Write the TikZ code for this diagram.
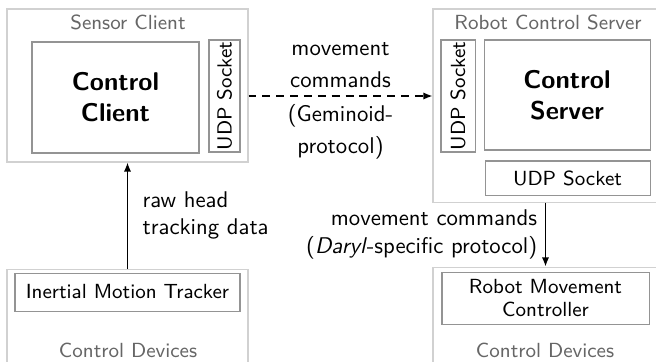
\documentclass[tikz,border=0pt]{standalone}
\usepackage{tikz}
\usetikzlibrary{positioning, arrows.meta}
\renewcommand{\familydefault}{\sfdefault}
\newcommand{\px}{0.44pt}
\tikzset{
  every picture/.style={x=0.44pt, y=-0.44pt},
  group/.style={draw=black!18, line width=0.45pt},
  part/.style={draw=black!42, line width=0.45pt, align=center, inner sep=0pt,
    font=\fontsize{9}{9.8}\selectfont},
  title/.style={font=\fontsize{11.3}{13.6}\selectfont\bfseries},
  grouplabel/.style={text=black!60, font=\fontsize{9}{11}\selectfont},
  flow/.style={-{Latex[length=4pt, width=3.2pt]}, line width=0.65pt}
}

\begin{document}
\begin{tikzpicture}
    \clip (0,0) rectangle (656,361);

    % Sensor client
    \node[group, minimum width=241*\px, minimum height=153*\px] (sensor) at (127.5,85.5) {};
    \node[grouplabel] (sensorlabel) at (128,22) {Sensor Client};
    \node[part, title, minimum width=167*\px, minimum height=111*\px] (client) at (115.5,97.5) {Control\\Client};
    \node[part, rotate=90, minimum width=112*\px, minimum height=31*\px] (udpclient) at (224.5,96) {UDP Socket};

    % Robot control server
    \node[group, minimum width=232*\px, minimum height=193*\px] (robotserver) at (549,105.5) {};
    \node[grouplabel] (serverlabel) at (548,22) {Robot Control Server};
    \node[part, rotate=90, minimum width=112*\px, minimum height=34*\px] (udpserver) at (458,96) {UDP Socket};
    \node[part, title, minimum width=166*\px, minimum height=110*\px] (server) at (567,95) {Control\\Server};
    \node[part, minimum width=165*\px, minimum height=34*\px] (udpdaryl) at (567.5,178) {UDP Socket};

    % Control devices
    \node[group, minimum width=241*\px, minimum height=106*\px] (devleft) at (127.5,322) {};
    \node[part, minimum width=225*\px, minimum height=38*\px] (tracker) at (127.5,292) {Inertial Motion Tracker};
    \node[grouplabel] (devleftlabel) at (128,350) {Control Devices};

    \node[group, minimum width=232*\px, minimum height=108*\px] (devright) at (549,321) {};
    \node[part, minimum width=207*\px, minimum height=52*\px] (movectl) at (545.5,298) {Robot Movement\\Controller};
    \node[grouplabel] (devrightlabel) at (545,350) {Control Devices};

    % Data flow
    \draw[flow] (devleft) -- (sensor)
        node[midway, right=3pt, align=left] {raw head\\tracking data};
    \draw[flow, dash pattern=on 3.5pt off 2.6pt] (sensor.east |- udpclient) -- (robotserver.west |- udpclient)
        node[midway, above, align=center] {movement\\[2pt]commands}
        node[midway, below, align=center] {(Geminoid-\\[2pt]protocol)};
    \draw[flow] (robotserver.south -| movectl) -- (devright.north -| movectl)
        node[midway, left, align=right] {movement commands\\(\textit{Daryl}-specific protocol)};
\end{tikzpicture}
\end{document}
